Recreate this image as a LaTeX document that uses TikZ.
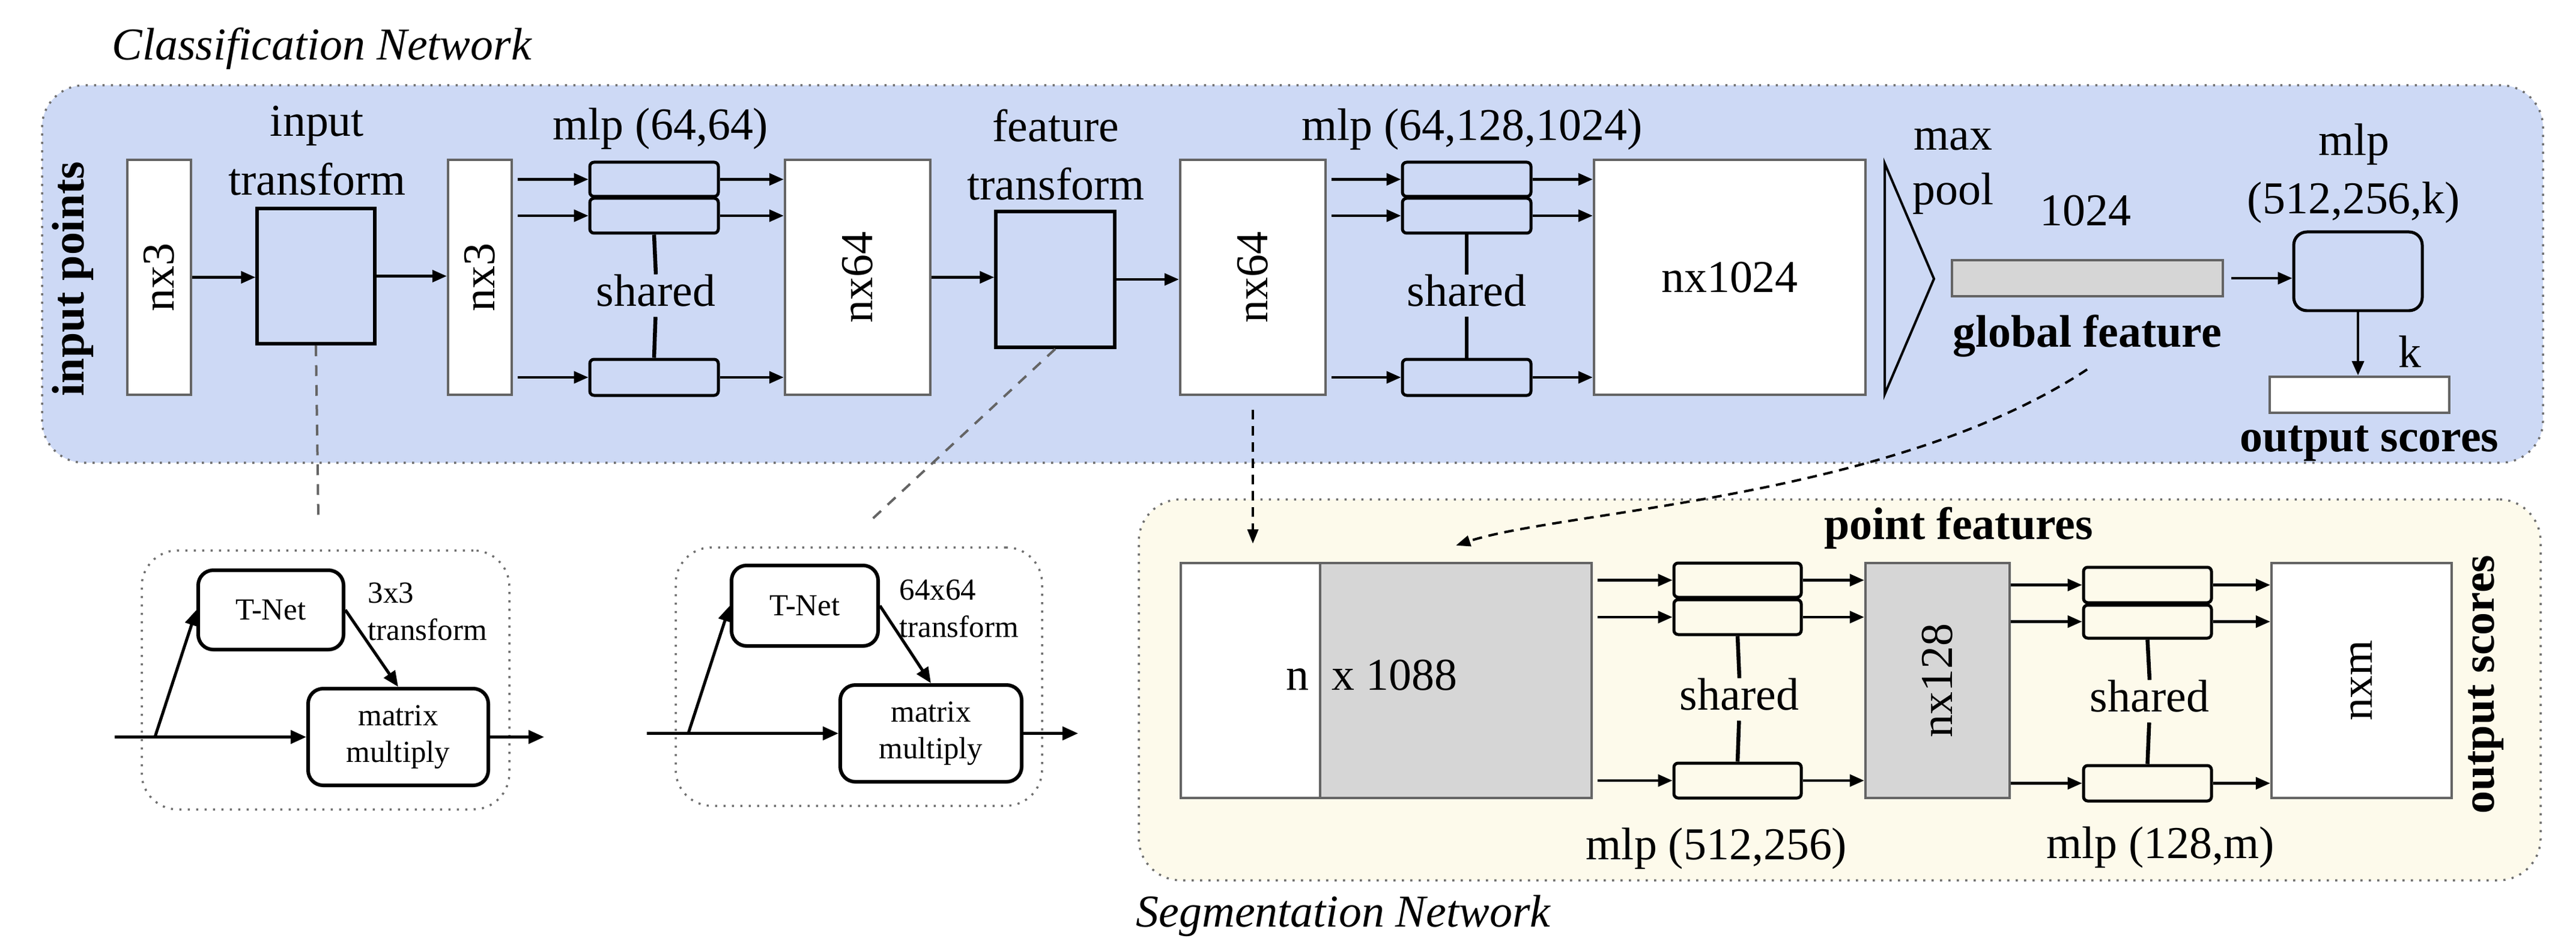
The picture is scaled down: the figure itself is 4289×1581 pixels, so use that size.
\documentclass[tikz,border=0pt]{standalone}
\usepackage{fontspec}
\setmainfont{Liberation Serif}
\usetikzlibrary{arrows.meta}
\definecolor{cblue}{RGB}{205,217,245}
\definecolor{cseg}{RGB}{253,250,235}
\definecolor{lgray}{RGB}{214,214,214}
\definecolor{dgray}{RGB}{100,100,100}
\definecolor{dotgray}{RGB}{110,110,110}
\newcommand\fbig{\fontsize{21.6pt}{26pt}\selectfont}
\newcommand\fsmall{\fontsize{14.5pt}{17.5pt}\selectfont}
\begin{document}
\begin{tikzpicture}[x=0.1mm,y=-0.1mm,
  txt/.style={inner sep=0, font=\fbig},
  btxt/.style={inner sep=0, font=\fbig\bfseries},
  stxt/.style={inner sep=0, font=\fsmall, align=center},
  panel/.style={draw=dotgray, line width=0.35mm, dash pattern=on 0.35mm off 1.05mm, inner sep=0},
  databox/.style={draw=dgray, line width=0.45mm, fill=white, inner sep=0},
  graybox/.style={databox, fill=lgray},
  tfbox/.style={draw=black, line width=0.55mm, fill=cblue, inner sep=0},
  mlpbox/.style={draw=black, line width=0.5mm, rounded corners=0.7mm, inner sep=0},
  rbox/.style={draw=black, line width=0.6mm, rounded corners=2.5mm, inner sep=0, fill=white},
  arr/.style={line width=0.42mm, -{Triangle[length=2.4mm,width=2mm]}},
  sarr/.style={line width=0.5mm, -{Triangle[length=2.6mm,width=2.2mm]}},
  conn/.style={line width=0.65mm},
  gdash/.style={draw=dgray, line width=0.4mm, dash pattern=on 1.8mm off 1.5mm},
  kdash/.style={line width=0.4mm, dash pattern=on 1.6mm off 1.1mm, -{Triangle[length=2.4mm,width=1.8mm]}},
]
\useasboundingbox (0,0) rectangle (4289,1581);

% ---------- panels ----------
\node[panel, fill=cblue, rounded corners=7mm, minimum width=416.4mm, minimum height=62.8mm] (clsP) at (2152,456) {};
\node[panel, fill=cseg, rounded corners=7mm, minimum width=233.4mm, minimum height=63.4mm] (segP) at (3063,1148) {};
\node[panel, rounded corners=6mm, minimum width=61.2mm, minimum height=43.1mm] (sbA) at (542,1131.5) {};
\node[panel, rounded corners=6mm, minimum width=61mm, minimum height=43mm] (sbB) at (1430,1126) {};

% ---------- titles ----------
\node[txt, font=\fbig\itshape, anchor=base west] (clsT) at (186,100) {Classification Network};
\node[txt, font=\fbig\itshape, anchor=base west] (segT) at (1891,1542) {Segmentation Network};

% ---------- classification row ----------
\node[btxt, rotate=90] (inpts) at (121,464) {input points};
\node[databox, minimum width=10.6mm, minimum height=39.1mm, label={[txt,rotate=90]center:nx3}] (nxa) at (265,461.5) {};
\node[tfbox, minimum width=19.6mm, minimum height=22.5mm] (itf) at (526,459.5) {};
\node[txt] (itfA) at (528,209) {input};
\node[txt] (itfB) at (528,298) {transform};
\node[databox, minimum width=10.6mm, minimum height=39.1mm, label={[txt,rotate=90]center:nx3}] (nxb) at (799,461.5) {};

\node[txt] (mlp1T) at (1100,214) {mlp (64,64)};
\node[mlpbox, minimum width=21.4mm, minimum height=5.7mm] (m1a) at (1089,298.5) {};
\node[mlpbox, minimum width=21.4mm, minimum height=5.8mm] (m1b) at (1089,359) {};
\node[mlpbox, minimum width=21.4mm, minimum height=6mm] (m1c) at (1089,628) {};
\node[txt] (sh1) at (1092,484) {shared};

\node[databox, minimum width=24.2mm, minimum height=39.1mm, label={[txt,rotate=90]center:nx64}] (nx64a) at (1428,461.5) {};
\node[tfbox, minimum width=19.8mm, minimum height=22.6mm] (ftf) at (1757,465) {};
\node[txt] (ftfA) at (1758,209) {feature};
\node[txt] (ftfB) at (1758,306) {transform};
\node[databox, minimum width=24.2mm, minimum height=39.1mm, label={[txt,rotate=90]center:nx64}] (nx64b) at (2086,461.5) {};

\node[txt] (mlp2T) at (2451,215) {mlp (64,128,1024)};
\node[mlpbox, minimum width=21.4mm, minimum height=5.7mm] (m2a) at (2442,298.5) {};
\node[mlpbox, minimum width=21.4mm, minimum height=5.8mm] (m2b) at (2442,359) {};
\node[mlpbox, minimum width=21.4mm, minimum height=6mm] (m2c) at (2442,628) {};
\node[txt] (sh2) at (2442,484) {shared};

\node[databox, minimum width=45.2mm, minimum height=39.1mm, label={[txt]center:nx1024}] (nx1024) at (2880,461.5) {};

% max pool
\coordinate (mpA) at (3138,272);
\coordinate (mpB) at (3220,464);
\coordinate (mpC) at (3138,656);
\draw[line width=0.4mm, line join=miter] (mpA) -- (mpB) -- (mpC) -- cycle;
\node[txt] (maxT) at (3252,232) {max};
\node[txt] (poolT) at (3252,322) {pool};

\node[txt] (n1024) at (3472,351) {1024};
\node[graybox, minimum width=45.1mm, minimum height=6mm] (gbar) at (3475.5,463) {};
\node[btxt] (gfl) at (3475,559) {global feature};

\node[txt] (mlp3A) at (3919,240) {mlp};
\node[txt] (mlp3B) at (3919,337) {(512,256,k)};
\node[mlpbox, rounded corners=2.2mm, minimum width=21.4mm, minimum height=13.1mm] (mlpk) at (3926,451.5) {};
\node[databox, minimum width=29.9mm, minimum height=6mm] (outk) at (3928.5,657) {};
\node[txt] (kT) at (4012,585) {k};
\node[btxt] (osC) at (3945,738) {output scores};

% classification connectors
\draw[arr] (nxa.east) -- (nxa.east -| itf.west);
\draw[arr] (itf.east) -- (itf.east -| nxb.west);
\foreach \m in {m1a,m1b,m1c} {
  \draw[arr, shorten <=0.8mm] (nxb.east |- \m.west) -- (\m.west);
  \draw[arr] (\m.east) -- (\m.east -| nx64a.west);
}
\draw[conn] (m1b.south) -- (sh1.north);
\draw[conn, shorten <=1.6mm] (sh1.south) -- (m1c.north);
\draw[arr] (nx64a.east) -- (nx64a.east -| ftf.west);
\draw[arr] (ftf.east) -- (ftf.east -| nx64b.west);
\foreach \m in {m2a,m2b,m2c} {
  \draw[arr, shorten <=0.8mm] (nx64b.east |- \m.west) -- (\m.west);
  \draw[arr] (\m.east) -- (\m.east -| nx1024.west);
}
\draw[conn] (m2b.south) -- (sh2.north);
\draw[conn, shorten <=1.6mm] (sh2.south) -- (m2c.north);
\draw[arr, shorten <=1.2mm] (gbar.east) -- (gbar.east -| mlpk.west);
\draw[arr] (mlpk.south) -- (mlpk.south |- outk.north);

% ---------- transform sub-networks ----------
\node[rbox, minimum width=24.2mm, minimum height=13.2mm, font=\fsmall] (tn1) at (451,1015) {T-Net};
\node[rbox, minimum width=30mm, minimum height=16.1mm, stxt] (mm1) at (663,1226.5) {matrix\\multiply};
\node[stxt, align=left, anchor=west] (tl1) at (612,1018) {3x3\\transform};
\coordinate (in1) at (191,1226.5);
\coordinate (br1) at (258,1226.5);
\coordinate (out1) at (906,1226.5);
\draw[sarr] (in1) -- (mm1.west);
\draw[sarr] (br1) -- (tn1.west);
\draw[sarr] (tn1.east) -- (mm1.north);
\draw[sarr] (mm1.east) -- (out1);

\node[rbox, minimum width=24.4mm, minimum height=13.4mm, font=\fsmall] (tn2) at (1340,1008) {T-Net};
\node[rbox, minimum width=30.2mm, minimum height=16.1mm, stxt] (mm2) at (1550,1220.5) {matrix\\multiply};
\node[stxt, align=left, anchor=west] (tl2) at (1497,1013) {64x64\\transform};
\coordinate (in2) at (1077,1220.5);
\coordinate (br2) at (1146,1220.5);
\coordinate (out2) at (1795,1220.5);
\draw[sarr] (in2) -- (mm2.west);
\draw[sarr] (br2) -- (tn2.west);
\draw[sarr] (tn2.east) -- (mm2.north);
\draw[sarr] (mm2.east) -- (out2);

\coordinate (g1) at (530,859);
\coordinate (g2) at (1451,865);
\draw[gdash] (itf.south) -- (g1);
\draw[gdash] (ftf.south) -- (g2);

% ---------- segmentation row ----------
\node[btxt] (pfT) at (3261,879) {point features};
\node[databox, minimum width=23.2mm, minimum height=39.1mm] (segL) at (2082,1132.5) {};
\node[graybox, minimum width=45.2mm, minimum height=39.1mm] (segR) at (2424,1132.5) {};
\node[txt, anchor=base east] (nT) at (2180,1148) {n};
\node[txt, anchor=base west] (x1088) at (2217,1148) {x 1088};

\node[mlpbox, minimum width=21.2mm, minimum height=5.7mm] (sma) at (2893,965.5) {};
\node[mlpbox, minimum width=21.2mm, minimum height=5.8mm] (smb) at (2893,1027) {};
\node[mlpbox, minimum width=21.2mm, minimum height=5.8mm] (smc) at (2893,1299) {};
\node[txt] (sh3) at (2896,1156) {shared};
\node[txt] (mlp4T) at (2858,1412) {mlp (512,256)};

\node[graybox, minimum width=24mm, minimum height=39.1mm, label={[txt,rotate=90]center:nx128}] (nx128) at (3226,1132.5) {};

\node[mlpbox, minimum width=21.3mm, minimum height=5.9mm] (tma) at (3575.5,973.5) {};
\node[mlpbox, minimum width=21.3mm, minimum height=5.5mm] (tmb) at (3575.5,1034.5) {};
\node[mlpbox, minimum width=21.3mm, minimum height=5.9mm] (tmc) at (3575.5,1303.5) {};
\node[txt] (sh4) at (3579,1159) {shared};
\node[txt] (mlp5T) at (3597,1410) {mlp (128,m)};

\node[databox, minimum width=30mm, minimum height=39.1mm, label={[txt,rotate=90]center:nxm}] (nxm) at (3932,1132.5) {};
\node[btxt, rotate=90] (osS) at (4139,1139) {output scores};

\foreach \m in {sma,smb,smc} {
  \draw[arr, shorten <=0.8mm] (segR.east |- \m.west) -- (\m.west);
  \draw[arr] (\m.east) -- (\m.east -| nx128.west);
}
\draw[conn] (smb.south) -- (sh3.north);
\draw[conn, shorten <=1.6mm] (sh3.south) -- (smc.north);
\foreach \m in {tma,tmb,tmc} {
  \draw[arr] (nx128.east |- \m.west) -- (\m.west);
  \draw[arr] (\m.east) -- (\m.east -| nxm.west);
}
\draw[conn] (tmb.south) -- (sh4.north);
\draw[conn, shorten <=1.6mm] (sh4.south) -- (tmc.north);

% ---------- links between networks ----------
\coordinate (segtopA) at (nx64b.south |- segL.north);
\draw[kdash] ([yshift=-2.3mm]nx64b.south) -- ([yshift=3mm]segtopA);
\draw[kdash] ([yshift=-2mm]gfl.south) .. controls (3150,830) and (2600,850) .. ([yshift=2.7mm]segR.north);
\end{tikzpicture}
\end{document}
